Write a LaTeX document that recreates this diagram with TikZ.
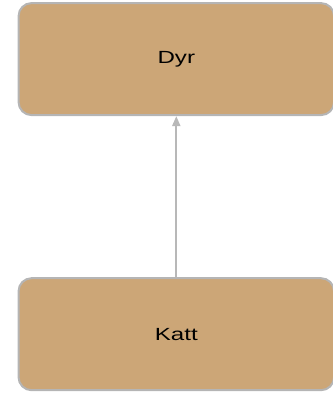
\documentclass[tikz,border=0pt]{standalone}
\usepackage{fontspec}
\setmainfont{Liberation Sans}[FakeStretch=1.37]
\usetikzlibrary{arrows.meta}
\definecolor{boxfill}{HTML}{CCA677}
\definecolor{boxline}{HTML}{B5B5B5}
\definecolor{arrline}{HTML}{B8B8B8}
\begin{document}
\begin{tikzpicture}[x=1pt,y=-1pt,
  klasse/.style={draw=boxline,line width=2pt,fill=boxfill,rounded corners=13pt,
    minimum width=315.5pt,minimum height=112pt,inner sep=0pt,
    font=\fontsize{17.6}{20}\selectfont},
  arv/.style={draw=arrline,line width=2pt,-{Triangle[width=8pt,length=10pt]}}]
%\draw[step=10pt,gray,very thin] (0,0) grid (332,393); %grid lines
\useasboundingbox (0,0) rectangle (332,393);

\node[klasse] (Dyr) at (176.3, 59.1) {Dyr};
\node[klasse] (Katt) at (176.3, 334.2) {Katt};

\draw[arv] (Katt) -- (Dyr);
\end{tikzpicture}
\end{document}
